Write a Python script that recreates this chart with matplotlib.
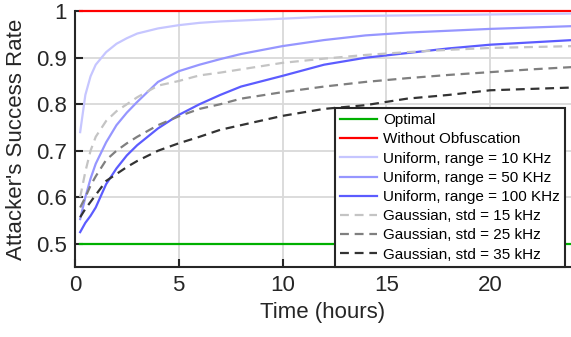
import numpy as np
import matplotlib
matplotlib.use('Agg')
import matplotlib.pyplot as plt

plt.rcParams['font.family'] = ['Liberation Sans', 'DejaVu Sans']

# data (success rate vs time in hours)
hours = [0.25, 0.5, 0.75, 1, 1.5, 2, 2.5, 3, 4, 5, 6, 7, 8, 10, 12, 14, 16, 18, 20, 22, 24]
optimal = [0.5] * len(hours)
no_obf = [1.0] * len(hours)
uni_10 = [0.74, 0.82, 0.86, 0.885, 0.912, 0.93, 0.942, 0.952, 0.963, 0.97, 0.975, 0.978,
          0.98, 0.984, 0.988, 0.99, 0.991, 0.992, 0.993, 0.994, 0.995]
uni_50 = [0.553, 0.6, 0.64, 0.672, 0.718, 0.755, 0.782, 0.805, 0.848, 0.871, 0.885, 0.897,
          0.908, 0.925, 0.938, 0.948, 0.954, 0.958, 0.962, 0.965, 0.968]
uni_100 = [0.525, 0.545, 0.56, 0.578, 0.628, 0.662, 0.69, 0.712, 0.748, 0.777, 0.8, 0.82,
           0.838, 0.861, 0.885, 0.9, 0.91, 0.92, 0.928, 0.933, 0.938]
gau_15 = [0.6, 0.655, 0.7, 0.73, 0.764, 0.785, 0.8, 0.815, 0.84, 0.85, 0.862, 0.868,
          0.875, 0.889, 0.898, 0.906, 0.912, 0.917, 0.921, 0.923, 0.925]
gau_25 = [0.578, 0.6, 0.625, 0.645, 0.68, 0.7, 0.716, 0.73, 0.755, 0.774, 0.79, 0.8,
          0.812, 0.826, 0.838, 0.848, 0.856, 0.863, 0.869, 0.875, 0.88]
gau_35 = [0.557, 0.575, 0.59, 0.605, 0.635, 0.65, 0.665, 0.678, 0.7, 0.716, 0.73, 0.745,
          0.755, 0.775, 0.79, 0.798, 0.812, 0.82, 0.83, 0.833, 0.836]

fig = plt.figure(figsize=(5.71, 3.37), dpi=100)
ax = fig.add_axes([0.1313, 0.2077, 0.8687, 0.759])

lw = 1.6
dash = (4, 2.6)
ax.plot(hours, optimal, color='#00b000', lw=lw, label='Optimal')
ax.plot(hours, no_obf, color='#ff0000', lw=lw, label='Without Obfuscation', clip_on=False)
ax.plot(hours, uni_10, color='#c6c6ff', lw=lw, label='Uniform, range = 10 KHz')
ax.plot(hours, uni_50, color='#9696ff', lw=lw, label='Uniform, range = 50 KHz')
ax.plot(hours, uni_100, color='#5c5cff', lw=lw, label='Uniform, range = 100 KHz')
ax.plot(hours, gau_15, color='#c4c4c4', lw=lw, dashes=dash, label='Gaussian, std = 15 kHz')
ax.plot(hours, gau_25, color='#7f7f7f', lw=lw, dashes=dash, label='Gaussian, std = 25 kHz')
ax.plot(hours, gau_35, color='#333333', lw=lw, dashes=dash, label='Gaussian, std = 35 kHz')

ax.set_xlim(0, 23.9)
ax.set_ylim(0.45, 1.0)
ax.set_xticks([0, 5, 10, 15, 20])
ax.set_yticks([0.5, 0.6, 0.7, 0.8, 0.9, 1.0])
ax.set_yticklabels(['0.5', '0.6', '0.7', '0.8', '0.9', '1'])
ax.grid(True, color='#d9d9d9', lw=1.3)
ax.set_axisbelow(True)
for s in ['top', 'right']:
    ax.spines[s].set_visible(False)
for s in ['left', 'bottom']:
    ax.spines[s].set_color('#262626')
    ax.spines[s].set_linewidth(1.5)
ax.tick_params(direction='in', length=6, width=1.5, colors='#262626', labelsize=16, pad=6)
ax.set_xlabel('Time (hours)', fontsize=16, color='#262626', labelpad=4)
ax.set_ylabel("Attacker's Success Rate", fontsize=16, color='#262626', labelpad=6)

leg = ax.legend(loc='lower right', bbox_to_anchor=(0.988, 0.0), borderaxespad=0,
                fontsize=11, labelspacing=0.34, handlelength=2.4, handletextpad=0.4,
                borderpad=0.35, fancybox=False, framealpha=1, edgecolor='#262626')
leg.get_frame().set_linewidth(1.5)

fig.savefig('out.png', dpi=100)
plt.close()
